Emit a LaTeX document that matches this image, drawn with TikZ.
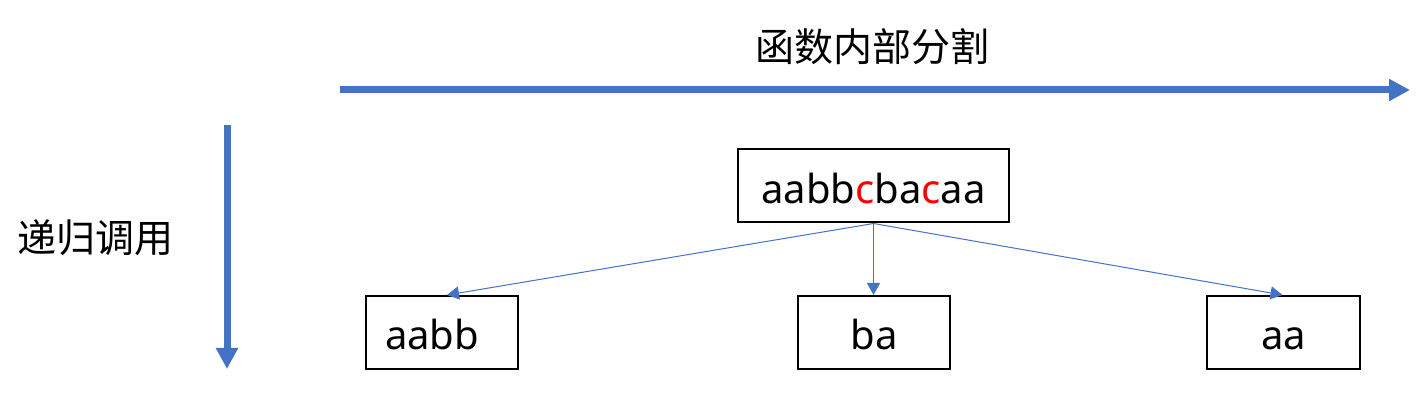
\documentclass[tikz,border=0pt]{standalone}
\usepackage{fontspec}
\setmainfont{Noto Sans}
\newfontfamily\cjk{Noto Sans CJK SC}
\usetikzlibrary{arrows.meta}
\definecolor{ablue}{RGB}{68,114,196}
\definecolor{ared}{RGB}{255,0,0}
\begin{document}
\begin{tikzpicture}[x=1pt,y=-1pt,
  box/.style={draw=black,line width=2pt,minimum height=73pt,text height=35pt,text depth=0pt,
    font=\fontsize{40}{48}\selectfont,inner ysep=0pt},
  bigarrow/.style={draw=ablue,line width=7pt,-{Triangle[length=21pt,width=21pt]}},
  thinarrow/.style={draw=ablue,line width=1pt,-{Triangle[length=12pt,width=13pt]}},
  lbl/.style={font=\cjk\fontsize{39}{46}\selectfont,inner sep=0pt}]
\useasboundingbox (0,0) rectangle (1422,411);
\coordinate (hs) at (340,90);
\coordinate (he) at (1410,90);
\coordinate (vs) at (227,125);
\coordinate (ve) at (227,369);
\draw[bigarrow] (hs) -- (he);
\draw[bigarrow] (vs) -- (ve);
\node[lbl] (title) at (872,47) {函数内部分割};
\node[lbl] (rec) at (95,238) {递归调用};
\node[box,minimum width=271pt,inner xsep=0pt] (top) at (873.5,186)
  {aabb\textcolor{ared}{c}ba\textcolor{ared}{c}aa};
\node[box,text width=114pt,align=left,inner xsep=19pt] (b1) at (442,332.5) {aabb};
\node[box,minimum width=152pt,inner xsep=0pt] (b2) at (874,332.5) {ba};
\node[box,minimum width=153pt,inner xsep=0pt] (b3) at (1283.5,332.5) {aa};
\draw[thinarrow] (top.south) -- ([xshift=5pt]b1.north);
\draw[thinarrow] (top.south) -- (top.south |- b2.north);
\draw[thinarrow] (top.south) -- ([xshift=-1pt]b3.north);
\end{tikzpicture}
\end{document}
